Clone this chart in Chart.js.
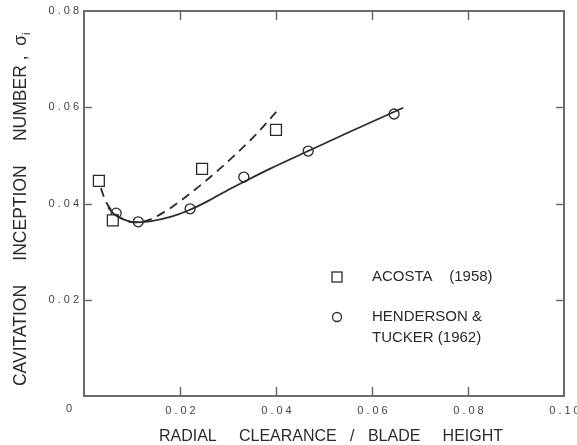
<!DOCTYPE html>
<html>
<head>
<meta charset="utf-8">
<title>Cavitation inception number</title>
<script src="https://cdn.jsdelivr.net/npm/chart.js@4.4.0/dist/chart.umd.min.js"></script>
<style>
    html, body { margin: 0; padding: 0; background: #fff; }
    #wrap { position: relative; width: 577px; height: 445px; }
</style>
</head>
<body>
<div id="wrap"><canvas id="chart" width="577" height="445"></canvas></div>
<script>
// Data
const acostaX = [0.0031, 0.0060, 0.0246, 0.0400];
const acostaY = [0.0447, 0.0365, 0.0472, 0.0553];

const hendersonX = [0.0067, 0.0113, 0.0221, 0.0333, 0.0467, 0.0646];
const hendersonY = [0.0380, 0.0362, 0.0389, 0.0455, 0.0509, 0.0586];

// dashed trend (Acosta)
const dashX = [0.0035, 0.0045, 0.0060, 0.0080, 0.0105, 0.0125, 0.0145, 0.0165, 0.0185, 0.0215, 0.0250, 0.0285, 0.0320, 0.0355, 0.0402];
const dashY = [0.0432, 0.0405, 0.0383, 0.0368, 0.0361, 0.0363, 0.0370, 0.0381, 0.0394, 0.0416, 0.0444, 0.0474, 0.0506, 0.0540, 0.0592];

// solid trend (Henderson & Tucker)
const solidX = [0.0050, 0.0065, 0.0085, 0.0105, 0.0137, 0.0180, 0.0221, 0.0260, 0.0300, 0.0333, 0.0387, 0.0467, 0.0554, 0.0665];
const solidY = [0.0392, 0.0376, 0.0366, 0.0361, 0.0363, 0.0372, 0.0387, 0.0406, 0.0428, 0.0445, 0.0472, 0.0509, 0.0549, 0.0599];

const xTicks = [0.02, 0.04, 0.06, 0.08, 0.10];
const yTicks = [0.02, 0.04, 0.06, 0.08];

const xTitle = 'RADIAL     CLEARANCE   /   BLADE     HEIGHT';
const yTitle = 'CAVITATION     INCEPTION     NUMBER ,  ';
const legendLabels = ['ACOSTA    (1958)', 'HENDERSON &', 'TUCKER (1962)'];

const ink = '#2b2b2b';
const axisColor = '#6b6b6b';
const textColor = '#444';
const fontFamily = '"Liberation Sans", Arial, sans-serif';

function toPoints(xs, ys) {
    return xs.map((x, i) => ({ x, y: ys[i] }));
}

// frame, inward ticks, titles, legend
const decorPlugin = {
    id: 'decor',
    beforeDraw(chart) {
        chart.ctx.letterSpacing = '3px';
    },
    afterDraw(chart) {
        const ctx = chart.ctx;
        const a = chart.chartArea;
        const xs = chart.scales.x;
        const ys = chart.scales.y;
        ctx.save();
        ctx.letterSpacing = '0px';

        // frame
        ctx.strokeStyle = axisColor;
        ctx.lineWidth = 2;
        ctx.strokeRect(a.left, a.top, a.right - a.left, a.bottom - a.top);

        // inward tick marks on all sides
        ctx.lineWidth = 1.5;
        ctx.beginPath();
        xTicks.slice(0, -1).forEach(v => {
            const px = Math.round(xs.getPixelForValue(v)) + 0.5;
            ctx.moveTo(px, a.bottom); ctx.lineTo(px, a.bottom - 9);
            ctx.moveTo(px, a.top); ctx.lineTo(px, a.top + 9);
        });
        yTicks.slice(0, -1).forEach(v => {
            const py = Math.round(ys.getPixelForValue(v)) + 0.5;
            ctx.moveTo(a.left, py); ctx.lineTo(a.left + 8, py);
            ctx.moveTo(a.right, py); ctx.lineTo(a.right - 8, py);
        });
        ctx.stroke();

        // shared origin label
        ctx.fillStyle = textColor;
        ctx.font = '11px ' + fontFamily;
        ctx.textAlign = 'center';
        ctx.textBaseline = 'middle';
        ctx.fillText('0', a.left - 15, a.bottom + 13);

        // x title
        ctx.fillStyle = ink;
        ctx.font = '16px ' + fontFamily;
        ctx.textAlign = 'center';
        ctx.textBaseline = 'alphabetic';
        ctx.fillText(xTitle, 331, 441);

        // y title with sigma_i
        ctx.save();
        ctx.translate(26, 209);
        ctx.rotate(-Math.PI / 2);
        ctx.font = '17.5px ' + fontFamily;
        ctx.textAlign = 'left';
        const wMain = ctx.measureText(yTitle).width;
        const wSig = ctx.measureText('σ').width;
        let x0 = -(wMain + wSig + 3) / 2;
        ctx.fillText(yTitle, x0, 0);
        x0 += wMain;
        ctx.fillText('σ', x0, 0);
        ctx.font = '11px ' + fontFamily;
        ctx.fillText('i', x0 + wSig, 4);
        ctx.restore();

        // legend
        ctx.strokeStyle = ink;
        ctx.lineWidth = 1.3;
        ctx.strokeRect(332, 272, 10, 10);
        ctx.beginPath();
        ctx.arc(337, 317, 4.5, 0, Math.PI * 2);
        ctx.stroke();
        ctx.fillStyle = ink;
        ctx.font = '15px ' + fontFamily;
        ctx.textAlign = 'left';
        ctx.textBaseline = 'middle';
        ctx.fillText(legendLabels[0], 372, 277);
        ctx.fillText(legendLabels[1], 372, 317);
        ctx.fillText(legendLabels[2], 372, 338);

        ctx.restore();
        ctx.letterSpacing = '0px';
    }
};

new Chart(document.getElementById('chart'), {
    type: 'scatter',
    data: {
        datasets: [
            {
                label: 'Acosta trend',
                data: toPoints(dashX, dashY),
                showLine: true,
                borderColor: ink,
                borderWidth: 1.8,
                borderDash: [9, 6],
                pointRadius: 0,
                cubicInterpolationMode: 'monotone'
            },
            {
                label: 'Henderson trend',
                data: toPoints(solidX, solidY),
                showLine: true,
                borderColor: ink,
                borderWidth: 1.8,
                pointRadius: 0,
                cubicInterpolationMode: 'monotone'
            },
            {
                label: 'ACOSTA (1958)',
                data: toPoints(acostaX, acostaY),
                pointStyle: 'rect',
                pointRadius: 7.7,
                borderColor: ink,
                borderWidth: 1.3,
                backgroundColor: '#fff'
            },
            {
                label: 'HENDERSON & TUCKER (1962)',
                data: toPoints(hendersonX, hendersonY),
                pointStyle: 'circle',
                pointRadius: 5,
                borderColor: ink,
                borderWidth: 1.3,
                backgroundColor: '#fff'
            }
        ]
    },
    options: {
        responsive: false,
        animation: false,
        layout: { padding: { top: 11, right: 13, bottom: 0, left: 0 } },
        plugins: {
            legend: { display: false },
            tooltip: { enabled: false }
        },
        scales: {
            x: {
                type: 'linear',
                min: 0,
                max: 0.10,
                afterFit: scale => {
                    scale.height = 49;
                    scale.paddingLeft = 0;
                    scale.paddingRight = 0;
                },
                afterBuildTicks: scale => { scale.ticks = [0].concat(xTicks).map(v => ({ value: v })); },
                grid: { display: false, drawTicks: false },
                border: { display: false },
                ticks: {
                    padding: 8,
                    labelOffset: 2,
                    color: textColor,
                    font: { family: fontFamily, size: 11 },
                    maxRotation: 0,
                    callback: v => v === 0 ? '' : v.toFixed(2)
                }
            },
            y: {
                type: 'linear',
                min: 0,
                max: 0.08,
                afterFit: scale => {
                    scale.width = 84;
                    scale.paddingTop = 0;
                    scale.paddingBottom = 0;
                },
                afterBuildTicks: scale => { scale.ticks = [0].concat(yTicks).map(v => ({ value: v })); },
                grid: { display: false, drawTicks: false },
                border: { display: false },
                ticks: {
                    padding: 2,
                    color: textColor,
                    font: { family: fontFamily, size: 11 },
                    callback: v => v === 0 ? '' : v.toFixed(2)
                }
            }
        }
    },
    plugins: [decorPlugin]
});
</script>
</body>
</html>
